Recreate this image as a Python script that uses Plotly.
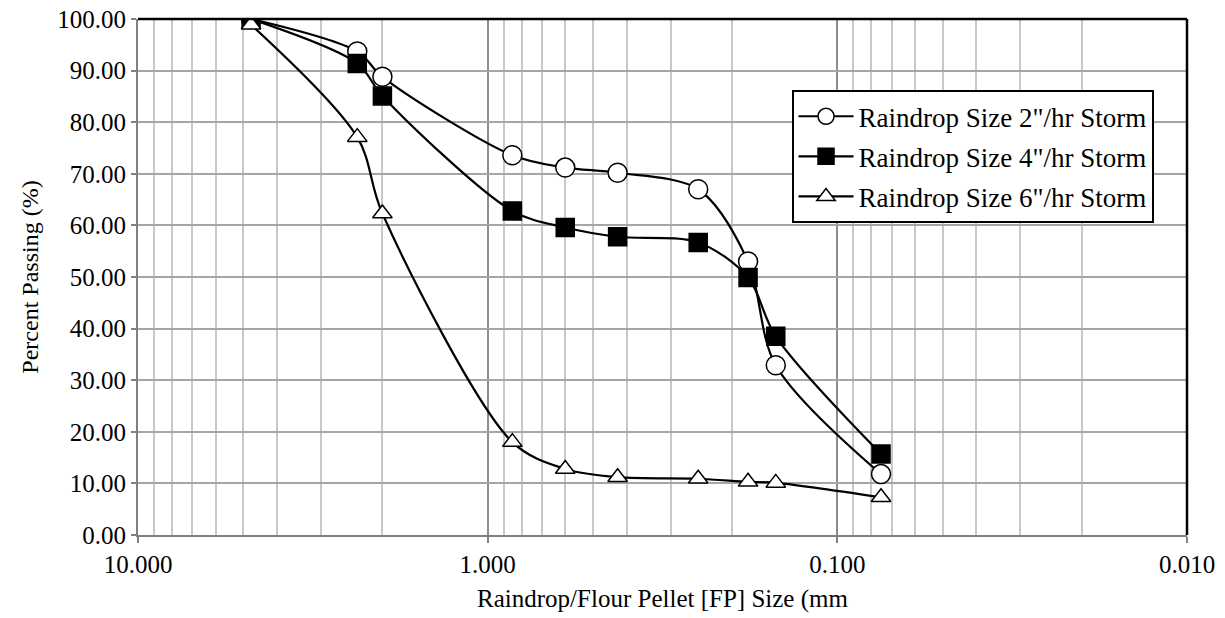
import plotly.graph_objects as go

# Data
sizes_mm = [4.75, 2.36, 2.0, 0.85, 0.6, 0.425, 0.25, 0.18, 0.15, 0.075]
pass_2in = [100.0, 93.7, 88.8, 73.6, 71.2, 70.2, 67.0, 53.0, 32.9, 11.8]
pass_4in = [100.0, 91.4, 85.1, 62.8, 59.6, 57.8, 56.7, 49.9, 38.5, 15.7]
pass_6in = [98.9, 77.1, 62.3, 18.0, 12.8, 11.2, 10.9, 10.3, 10.1, 7.3]
series_names = ['Raindrop Size 2"/hr Storm', 'Raindrop Size 4"/hr Storm', 'Raindrop Size 6"/hr Storm']
x_tickvals = [10, 1, 0.1, 0.01]
y_tickvals = [0, 10, 20, 30, 40, 50, 60, 70, 80, 90, 100]

FONT = "Liberation Serif"

fig = go.Figure()
styles = [
    dict(symbol="circle", size=19, color="white"),
    dict(symbol="square", size=18, color="black"),
    dict(symbol="triangle-up", size=17, color="white"),
]
for i, (name, vals) in enumerate(zip(series_names, [pass_2in, pass_4in, pass_6in])):
    st = styles[i]
    fig.add_trace(go.Scatter(
        x=sizes_mm, y=vals, name=name, mode="lines+markers",
        legendgroup=f"g{i}",
        line=dict(color="black", width=2.2, shape="spline", smoothing=0.9),
        marker=dict(symbol=st["symbol"], size=st["size"], color=st["color"],
                    line=dict(color="black", width=1.5)),
    ))

fig.update_layout(
    width=1225, height=618,
    margin=dict(l=138, r=38, t=19, b=83),
    paper_bgcolor="white", plot_bgcolor="white",
    font=dict(family=FONT, size=25, color="black"),
    showlegend=True,
    legend=dict(x=0.623, y=0.862, xanchor="left", yanchor="top",
                bordercolor="black", borderwidth=2, bgcolor="white",
                font=dict(size=27, family=FONT), tracegroupgap=2, itemwidth=55),
    xaxis=dict(
        type="log", range=[1, -2], autorange=False, automargin=False,
        tickvals=x_tickvals, tickformat=".3f",
        tickfont=dict(size=25, family=FONT),
        showgrid=True, gridcolor="#8c8c8c", gridwidth=1.5,
        minor=dict(dtick="D1", showgrid=True, gridcolor="#c8c8c8", gridwidth=1.5, ticks=""),
        ticks="outside", ticklen=6, tickcolor="#808080", tickwidth=1.5,
        showline=True, linecolor="#808080", linewidth=2,
        zeroline=False,
        title=dict(text="Raindrop/Flour Pellet [FP] Size (mm", font=dict(size=25, family=FONT), standoff=12),
    ),
    yaxis=dict(
        range=[0, 100], autorange=False, automargin=False,
        tickvals=y_tickvals, tickformat=".2f",
        tickfont=dict(size=25, family=FONT),
        showgrid=True, gridcolor="#a6a6a6", gridwidth=1.5,
        ticks="outside", ticklen=5, tickcolor="#808080", tickwidth=1.5,
        showline=True, linecolor="#808080", linewidth=2,
        zeroline=False,
        title=dict(text="Percent Passing (%)", font=dict(size=24, family=FONT), standoff=12),
    ),
)
# black top/right frame of the plot area
fig.add_shape(type="line", xref="paper", yref="paper", x0=0, x1=1, y0=1, y1=1,
              line=dict(color="black", width=2.5))
fig.add_shape(type="line", xref="paper", yref="paper", x0=1, x1=1, y0=0, y1=1,
              line=dict(color="black", width=2.5))

fig.write_html("out.html")
